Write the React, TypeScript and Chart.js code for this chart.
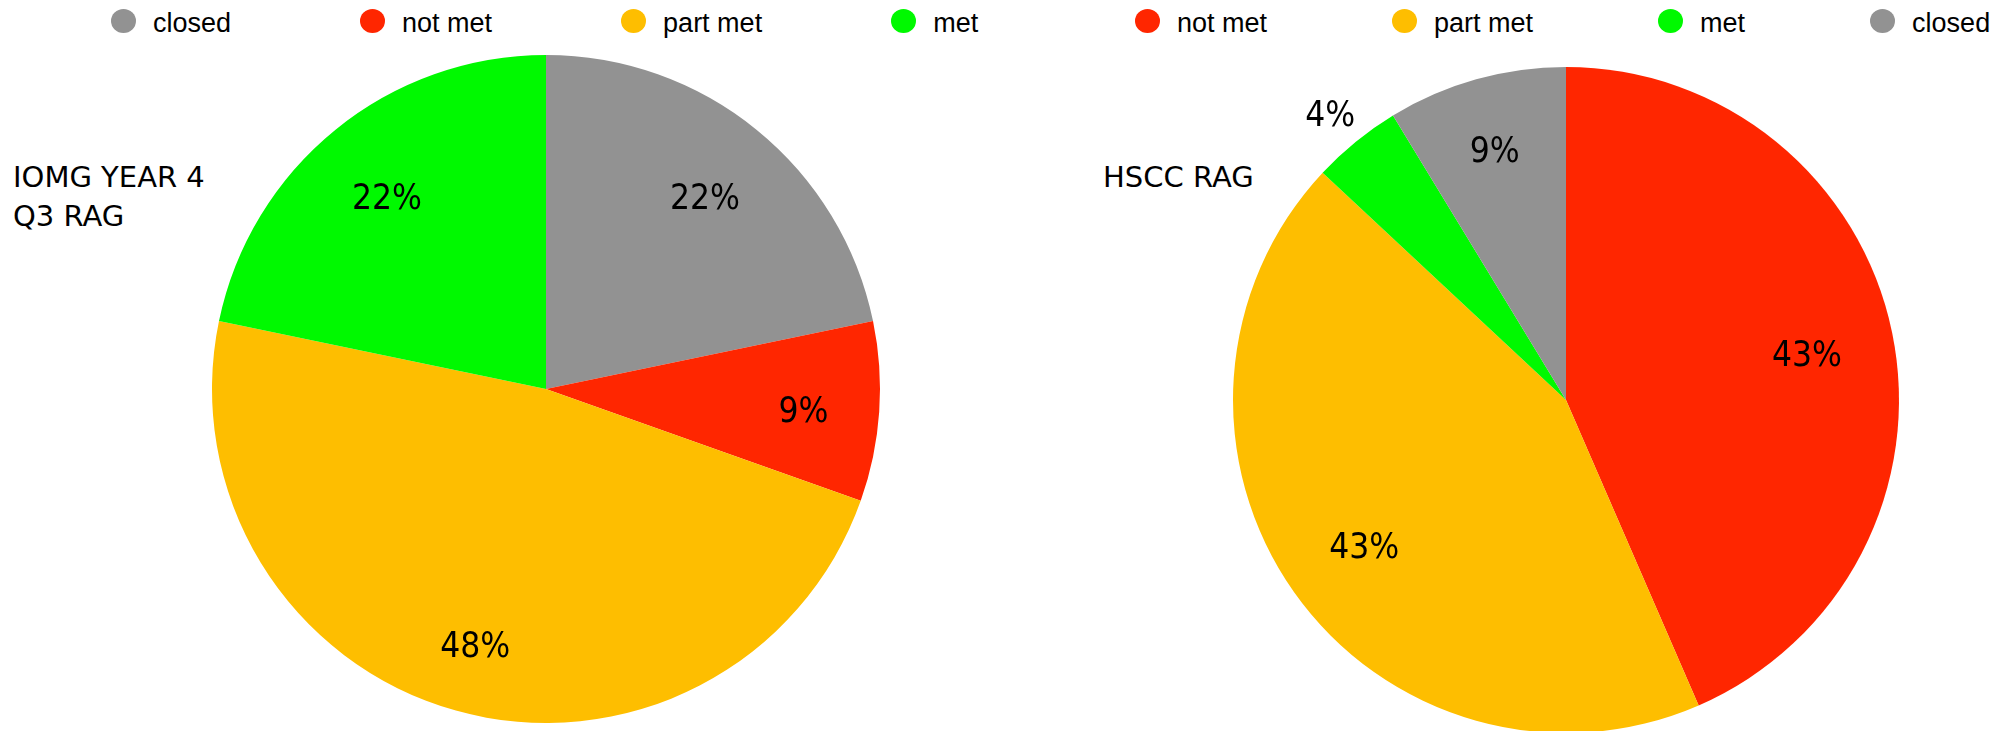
import React, { useEffect, useRef } from "react";
import { Chart, registerables } from "chart.js";

Chart.register(...registerables);

// IOMG year 4, Q3 RAG status counts
const iomgTitle = ["IOMG YEAR 4", "Q3 RAG"];
const iomgLabels = ["closed", "not met", "part met", "met"];
const iomgCounts = [5, 2, 11, 5];
const iomgColors = ["#929292", "#FF2600", "#FEBE00", "#00F900"];

// HSCC RAG status counts
const hsccTitle = ["HSCC RAG"];
const hsccLabels = ["not met", "part met", "met", "closed"];
const hsccCounts = [10, 10, 1, 2];
const hsccColors = ["#FF2600", "#FEBE00", "#00F900", "#929292"];

const LABEL_SIZE = 35;
const LABEL_FONT = `${LABEL_SIZE}px "DejaVu Sans Condensed", "DejaVu Sans", sans-serif`;
const TITLE_FONT = '"DejaVu Sans", sans-serif';
const LEGEND_FONT = '"Liberation Sans", Arial, Helvetica, sans-serif';

// Percentage labels: the outer edge of each label box sits on a fixed ring
// inside the slice; very thin slices get their label just outside the pie.
const sliceLabels = {
  id: "sliceLabels",
  afterDatasetsDraw(chart: any) {
    const ctx = chart.ctx;
    const values = chart.data.datasets[0].data as number[];
    const total = values.reduce((a, b) => a + b, 0);
    const meta = chart.getDatasetMeta(0);
    ctx.save();
    ctx.font = LABEL_FONT;
    ctx.fillStyle = "#000";
    ctx.textAlign = "center";
    ctx.textBaseline = "alphabetic";
    const halfH = LABEL_SIZE * 0.3645;
    meta.data.forEach((arc: any, i: number) => {
      const { x, y, startAngle, endAngle, outerRadius } = arc.getProps(
        ["x", "y", "startAngle", "endAngle", "outerRadius"],
        true
      );
      const share = values[i] / total;
      const text = Math.round(share * 100) + "%";
      const halfW = ctx.measureText(text).width / 2;
      const mid = (startAngle + endAngle) / 2;
      const c = Math.cos(mid);
      const s = Math.sin(mid);
      const extent = Math.abs(c) * halfW + Math.abs(s) * halfH;
      const d = share < 0.06 ? outerRadius * 1.045 + extent : outerRadius * 0.85 - extent;
      const lx = x + c * d;
      const ly = y + s * d + 3;
      ctx.fillText(text, lx, ly + halfH);
    });
    ctx.restore();
  },
};

type PieProps = {
  labels: string[];
  values: number[];
  colors: string[];
  left: number;
  top: number;
  width: number;
  height: number;
};

function RagPie({ labels, values, colors, left, top, width, height }: PieProps) {
  const ref = useRef<HTMLCanvasElement | null>(null);
  useEffect(() => {
    if (!ref.current) return;
    const chart = new Chart(ref.current, {
      type: "pie",
      data: {
        labels,
        datasets: [
          {
            data: values,
            backgroundColor: colors,
            borderWidth: 0,
            hoverOffset: 0,
          },
        ],
      },
      options: {
        responsive: false,
        animation: false,
        layout: { padding: 0 },
        plugins: {
          legend: { display: false },
          tooltip: { enabled: false },
        },
      },
      plugins: [sliceLabels],
    });
    return () => chart.destroy();
  }, []);
  return (
    <canvas
      ref={ref}
      width={width}
      height={height}
      style={{ position: "absolute", left, top, width, height }}
    />
  );
}

type LegendProps = { labels: string[]; colors: string[]; left: number; gap: number };

function RagLegend({ labels, colors, left, gap }: LegendProps) {
  return (
    <div
      style={{
        position: "absolute",
        left,
        top: 8,
        display: "flex",
        alignItems: "flex-start",
        gap,
        whiteSpace: "nowrap",
      }}
    >
      {labels.map((l, i) => (
        <div key={l} style={{ display: "flex", alignItems: "flex-start" }}>
          <span
            style={{
              display: "block",
              width: 25,
              height: 24,
              marginTop: 1,
              marginRight: 17,
              borderRadius: "50%",
              background: colors[i],
            }}
          />
          <span
            style={{
              display: "block",
              fontFamily: LEGEND_FONT,
              fontSize: 27,
              lineHeight: "31px",
              color: "#000",
            }}
          >
            {l}
          </span>
        </div>
      ))}
    </div>
  );
}

function SideTitle({ lines, left }: { lines: string[]; left: number }) {
  return (
    <div
      style={{
        position: "absolute",
        left,
        top: 158,
        fontFamily: TITLE_FONT,
        fontSize: 29,
        lineHeight: "39px",
        color: "#000",
        whiteSpace: "nowrap",
      }}
    >
      {lines.map((t) => (
        <div key={t}>{t}</div>
      ))}
    </div>
  );
}

export default function App() {
  return (
    <div
      style={{
        position: "absolute",
        left: 0,
        top: 0,
        width: 2011,
        height: 731,
        overflow: "hidden",
        background: "#fff",
      }}
    >
      <RagLegend labels={iomgLabels} colors={iomgColors} left={111} gap={129} />
      <RagLegend labels={hsccLabels} colors={hsccColors} left={1135} gap={125} />
      <SideTitle lines={iomgTitle} left={13} />
      <SideTitle lines={hsccTitle} left={1103} />
      <RagPie
        labels={iomgLabels}
        values={iomgCounts}
        colors={iomgColors}
        left={106}
        top={55}
        width={880}
        height={668}
      />
      <RagPie
        labels={hsccLabels}
        values={hsccCounts}
        colors={hsccColors}
        left={1126}
        top={67}
        width={880}
        height={666}
      />
    </div>
  );
}
